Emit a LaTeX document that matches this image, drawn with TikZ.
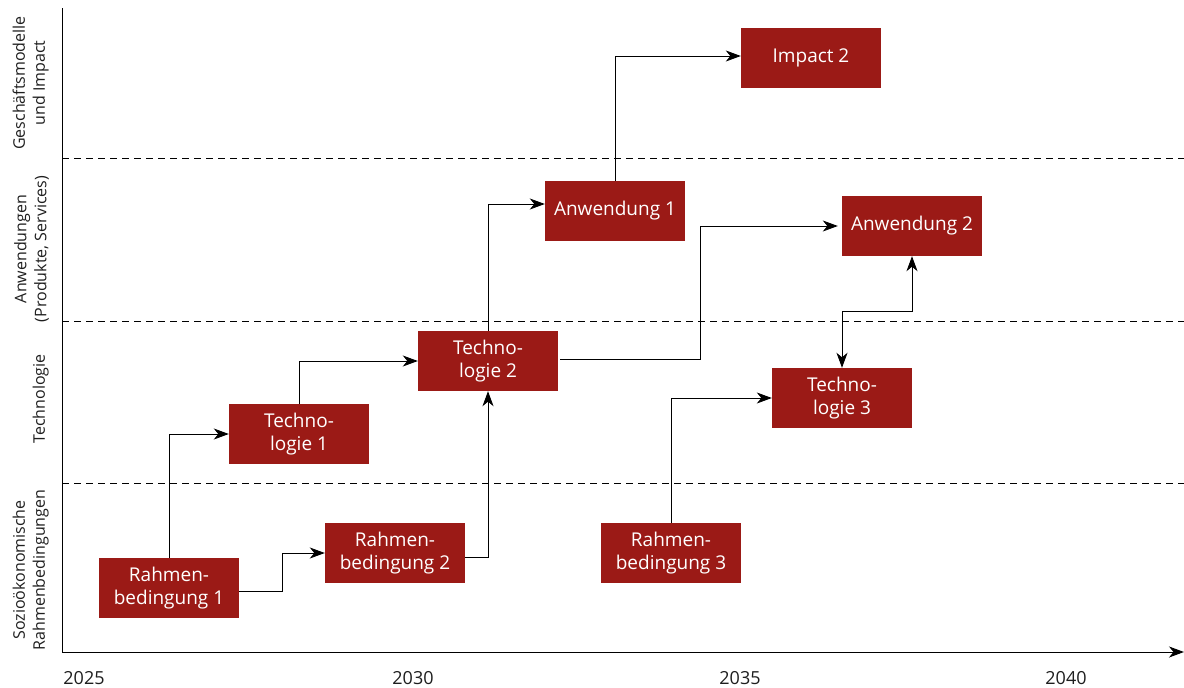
\documentclass[tikz,border=0pt]{standalone}
\usepackage{fontspec}
\setmainfont{Open Sans}
\usetikzlibrary{arrows.meta}
\definecolor{boxred}{RGB}{155,26,22}
\definecolor{txt}{RGB}{30,30,30}
\tikzset{
  tip/.tip={Stealth[length=15pt,width=11pt,inset=4.5pt]},
  box/.style={fill=boxred, text=white, minimum width=140pt, minimum height=60pt,
    inner sep=0pt, align=center, font=\fontsize{19}{23}\selectfont},
  conn/.style={draw=black, line width=0.85pt, -tip},
  conn2/.style={draw=black, line width=0.85pt, tip-tip},
  sep/.style={draw=black, line width=0.9pt, dash pattern=on 7pt off 5pt},
  axis/.style={draw=black, line width=1pt},
  year/.style={text=txt, font=\fontsize{18}{21}\selectfont, inner sep=0pt},
  lane/.style={text=txt, rotate=90, anchor=south, align=center, inner sep=0pt,
    font=\fontsize{16}{20}\selectfont}
}
\begin{document}
\begin{tikzpicture}[x=1pt,y=-1pt]
\useasboundingbox (0,0) rectangle (1184,688);
% axes
\coordinate (ytop) at (62,8);
\coordinate (orig) at (62,652);
\coordinate (xend) at (1184,652);
\draw[axis] (ytop) -- (orig);
\draw[axis, -tip] (orig) -- (xend);
% lane separators
\coordinate (s1a) at (62,158); \coordinate (s1b) at (1184,158);
\coordinate (s2a) at (62,321); \coordinate (s2b) at (1184,321);
\coordinate (s3a) at (62,483); \coordinate (s3b) at (1184,483);
\draw[sep] (s1a) -- (s1b);
\draw[sep] (s2a) -- (s2b);
\draw[sep] (s3a) -- (s3b);
% lane labels
\node[lane] (l1) at (49,83) {Geschäftsmodelle\\und Impact};
\node[lane] (l2) at (49,249) {Anwendungen\\(Produkte, Services)};
\node[lane] (l3) at (49,399) {Technologie};
\node[lane] (l4) at (49,570) {Sozioökonomische\\Rahmenbedingungen};
% years
\node[year] (y1) at (84,678) {2025};
\node[year] (y2) at (413,678) {2030};
\node[year] (y3) at (740,678) {2035};
\node[year] (y4) at (1066,678) {2040};
% boxes
\node[box] (R1) at (169,588) {Rahmen-\\bedingung 1};
\node[box] (R2) at (395,553) {Rahmen-\\bedingung 2};
\node[box] (R3) at (671,553) {Rahmen-\\bedingung 3};
\node[box] (T1) at (299,434) {Techno-\\logie 1};
\node[box] (T2) at (488,361) {Techno-\\logie 2};
\node[box] (T3) at (842,398) {Techno-\\logie 3};
\node[box] (A1) at (615,211) {Anwendung 1};
\node[box] (A2) at (912,226) {Anwendung 2};
\node[box] (I2) at (811,58) {Impact 2};
% connectors
\draw[conn] (R1.north) |- (T1.west);
\draw[conn] ([yshift=-3pt]R1.east) -- ++(43,0) |- (R2.west);
\draw[conn] (T1.north) |- (T2.west);
\draw[conn] ([yshift=-4pt]R2.east) -| (T2.south);
\draw[conn] (T2.north) |- ([yshift=7pt]A1.west);
\draw[conn] (A1.north) |- ([yshift=2pt]I2.west);
\draw[conn] ([xshift=2pt,yshift=2pt]T2.east) -- ++(140,0) |- ([xshift=-4pt]A2.west);
\draw[conn] (R3.north) |- (T3.west);
\draw[conn2] (T3.north) -- ++(0,-56) -| (A2.south);
\end{tikzpicture}
\end{document}
